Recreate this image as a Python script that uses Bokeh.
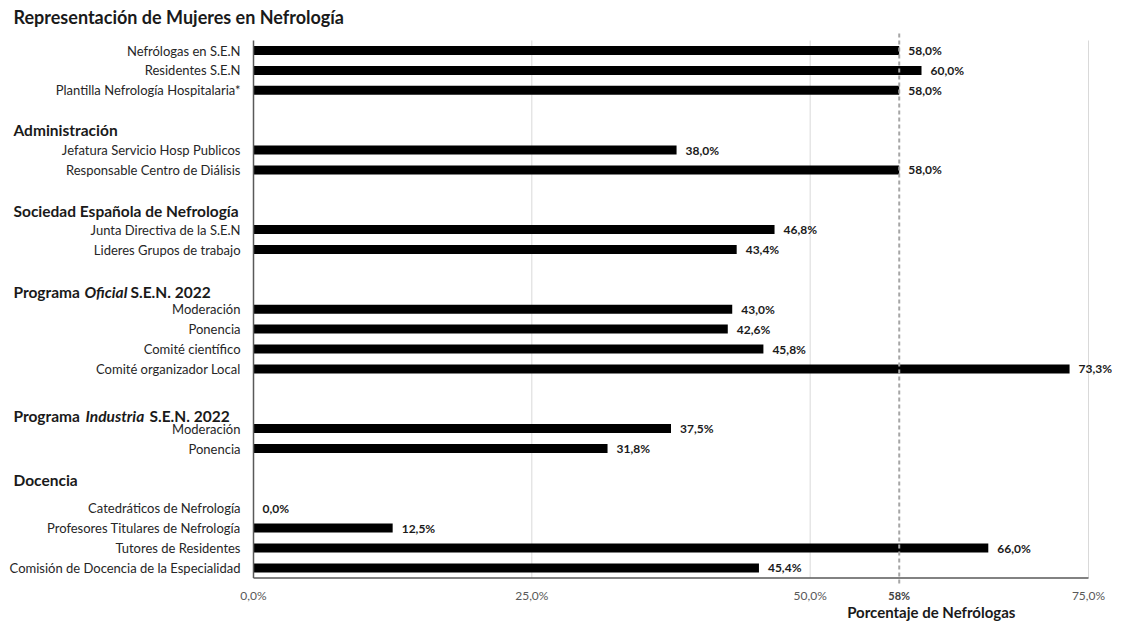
from bokeh.plotting import figure
from bokeh.models import ColumnDataSource, Range1d
from bokeh.core.properties import value
from bokeh.embed import file_html
from bokeh.resources import INLINE

# ---- data ----
title_text = "Representación de Mujeres en Nefrología"
categories = ["Nefrólogas en S.E.N", "Residentes S.E.N", "Plantilla Nefrología Hospitalaria*",
              "Jefatura Servicio Hosp Publicos", "Responsable Centro de Diálisis",
              "Junta Directiva de la S.E.N", "Lideres Grupos de trabajo",
              "Moderación", "Ponencia", "Comité científico", "Comité organizador Local",
              "Moderación", "Ponencia",
              "Catedráticos de Nefrología", "Profesores Titulares de Nefrología",
              "Tutores de Residentes", "Comisión de Docencia de la Especialidad"]
values = [58.0, 60.0, 58.0, 38.0, 58.0, 46.8, 43.4, 43.0, 42.6, 45.8, 73.3, 37.5, 31.8,
          0.0, 12.5, 66.0, 45.4]
row_slots = [0, 1, 2, 5, 6, 9, 10, 13, 14, 15, 16, 19, 20, 23, 24, 25, 26]
x_ticks = [0, 25, 50, 75]
reference_value = 58
reference_label = "58%"
x_title = "Porcentaje de Nefrólogas"

FONT = "Lato"
W, H = 1112, 621
X0, PX = 253, 835 / 75     # pixel of 0 %, pixels per percent
Y0, ROW = 50, 19.9         # pixel of first row, pixels per row

def fx(px):
    return (px - X0) / PX

def fy(py):
    return (py - Y0) / ROW

p = figure(width=W, height=H, output_backend="svg", toolbar_location=None,
           x_range=Range1d(fx(0), fx(W)), y_range=Range1d(fy(H), fy(0)),
           x_axis_location=None, y_axis_location=None,
           min_border=0, min_border_left=0, min_border_right=0,
           min_border_top=0, min_border_bottom=0)
p.outline_line_color = None
p.background_fill_color = "white"
p.border_fill_color = "white"
p.grid.visible = False

last = max(row_slots)
top = -10 / ROW
bot = last + 10 / ROW

labels = [f"{v:.1f}".replace(".", ",") + "%" for v in values]
src = ColumnDataSource(dict(y=row_slots, x=values, lab=labels, cat=categories,
                            zero=[0] * len(values)))

# vertical gridlines
gx = [t for t in x_ticks if t > 0]
p.segment(x0=gx, x1=gx, y0=[top] * len(gx), y1=[bot] * len(gx), line_color="#d9d9d9", line_width=1)

# bars
p.hbar(y="y", right="x", left=0, height=0.45, source=src, fill_color="black", line_color=None)

# reference dashed line
p.segment(x0=[reference_value], x1=[reference_value], y0=[top - 7 / ROW], y1=[bot + 7 / ROW],
          line_color="#a6a6a6", line_width=2, line_dash="4 3")

# frame lines (left and bottom)
p.segment(x0=[0], x1=[0], y0=[top], y1=[bot], line_color="#595959", line_width=1.5)
p.segment(x0=[0], x1=[x_ticks[-1]], y0=[bot], y1=[bot], line_color="#595959", line_width=1.5)

# value labels
p.text(x="x", y="y", text="lab", source=src, x_offset=9, text_baseline="middle",
       text_font=value(FONT), text_font_size="12px", text_font_style="bold", text_color="#1a1a1a")

# category labels (left of the axis)
p.text(x="zero", y="y", text="cat", source=src, x_offset=-13, text_align="right",
       text_baseline="middle", text_font=value(FONT), text_font_size="13px", text_color="#262626")

# x tick labels
tick_y = bot + 18 / ROW
p.text(x=x_ticks, y=[tick_y] * len(x_ticks),
       text=[f"{t:.1f}".replace(".", ",") + "%" for t in x_ticks],
       text_align="center", text_baseline="middle", text_font=value(FONT),
       text_font_size="12px", text_color="#595959")

# reference label and axis title
p.text(x=[reference_value], y=[tick_y], text=[reference_label], text_align="center",
       text_baseline="middle", text_font=value(FONT), text_font_size="11px",
       text_font_style="bold", text_color="#404040")
p.text(x=[reference_value], y=[bot + 34 / ROW], text=[x_title], x_offset=32, text_align="center",
       text_baseline="middle", text_font=value(FONT), text_font_size="15px",
       text_font_style="bold", text_color="#1a1a1a")

def head(text, x_px, row, size="15.5px", style="bold"):
    p.text(x=[fx(x_px)], y=[row], text=[text], text_align="left", text_baseline="middle",
           text_font=value(FONT), text_font_size=size, text_font_style=style, text_color="#1a1a1a")

# chart title
head(title_text, 13, fy(16), size="18px")

# section headers
head("Administración", 13, 4.0)
head("Sociedad Española de Nefrología", 13, 8.05)
head("Programa", 13, 12.15)
head("Oficial", 84, 12.15, style="bold italic")
head("S.E.N. 2022", 130, 12.15)
head("Programa", 13, 18.35)
head("Industria", 85, 18.35, style="bold italic")
head("S.E.N. 2022", 149, 18.35)
head("Docencia", 13, 21.6)

open("out.html", "w").write(file_html(p, INLINE))
